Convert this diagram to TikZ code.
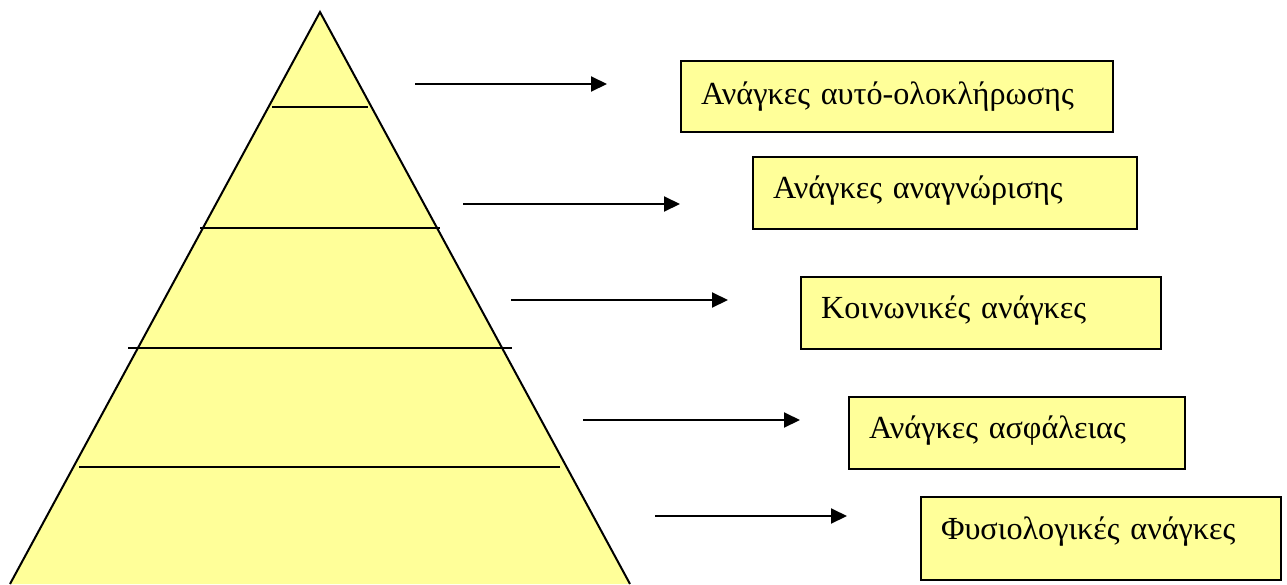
\documentclass[tikz,border=0pt]{standalone}
\usepackage{fontspec}
\setmainfont{Liberation Serif}
\usetikzlibrary{arrows.meta}
\definecolor{paleyellow}{RGB}{255,255,153}
\tikzset{
  outline/.style={line width=2pt, draw=black},
  level/.style={line width=2pt, draw=black},
  pointer/.style={line width=2pt, -{Triangle[length=16pt,width=15pt]}},
  needbox/.style={draw=black, line width=2pt, fill=paleyellow, anchor=north west,
    align=left, inner xsep=20pt, inner ysep=0pt, font=\fontsize{32.2}{37}\selectfont},
}
\begin{document}
\begin{tikzpicture}[x=1pt, y=-1pt]
  \useasboundingbox (0,0) rectangle (1287,584);
  % pyramid body
  \coordinate (apex) at (320,12);
  \coordinate (baseL) at (10,584);
  \coordinate (baseR) at (630,584);
  \fill[paleyellow] (apex) -- (baseR) -- (baseL) -- cycle;
  \draw[outline, line join=miter] (baseL) -- (apex) -- (baseR);
  % level separators
  \coordinate (l1a) at (272,107); \coordinate (l1b) at (368,107);
  \coordinate (l2a) at (200,228); \coordinate (l2b) at (440,228);
  \coordinate (l3a) at (128,348); \coordinate (l3b) at (512,348);
  \coordinate (l4a) at (79,467);  \coordinate (l4b) at (560,467);
  \draw[level] (l1a) -- (l1b);
  \draw[level] (l2a) -- (l2b);
  \draw[level] (l3a) -- (l3b);
  \draw[level] (l4a) -- (l4b);
  % labels
  \node[needbox, minimum width=432pt, minimum height=71pt, text width=392pt] (n1) at (680,60) {Ανάγκες αυτό-ολοκλήρωσης};
  \node[needbox, minimum width=384pt, minimum height=72pt, text width=344pt, text depth=11pt] (n2) at (752,156) {Ανάγκες αναγνώρισης};
  \node[needbox, minimum width=360pt, minimum height=72pt, text width=320pt, text depth=11pt] (n3) at (800,276) {Κοινωνικές ανάγκες};
  \node[needbox, minimum width=336pt, minimum height=72pt, text width=296pt, text depth=11pt] (n4) at (848,396) {Ανάγκες ασφάλειας};
  \node[needbox, minimum width=360pt, minimum height=83pt, text width=320pt, text depth=20pt] (n5) at (920,496) {Φυσιολογικές ανάγκες};
  % arrows
  \coordinate (s1) at (415,84);  \coordinate (e1) at (607,84);
  \coordinate (s2) at (463,204); \coordinate (e2) at (680,204);
  \coordinate (s3) at (511,300); \coordinate (e3) at (728,300);
  \coordinate (s4) at (583,420); \coordinate (e4) at (800,420);
  \coordinate (s5) at (655,516); \coordinate (e5) at (847,516);
  \draw[pointer] (s1) -- (e1);
  \draw[pointer] (s2) -- (e2);
  \draw[pointer] (s3) -- (e3);
  \draw[pointer] (s4) -- (e4);
  \draw[pointer] (s5) -- (e5);
\end{tikzpicture}
\end{document}
